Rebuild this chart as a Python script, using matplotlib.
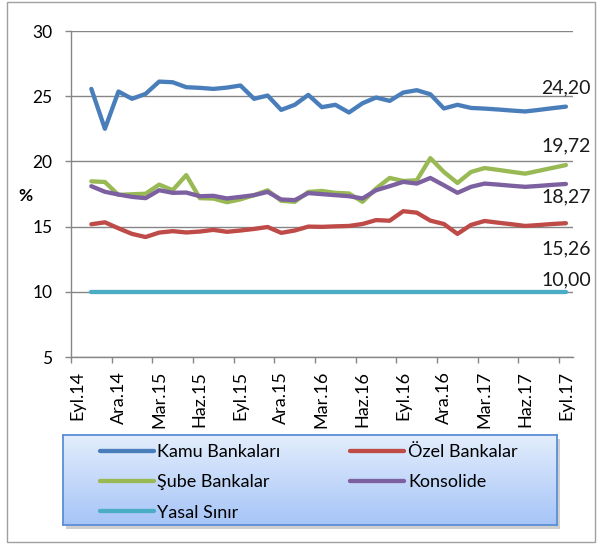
import numpy as np
import matplotlib.pyplot as plt
from matplotlib.patches import Rectangle

plt.rcParams['font.family'] = ['Lato', 'DejaVu Sans']

# categories on the axis (monthly, Eyl.14 .. Eyl.17); data starts with Eki.14
tick_labels = ["Eyl.14", "Ara.14", "Mar.15", "Haz.15", "Eyl.15", "Ara.15", "Mar.16",
               "Haz.16", "Eyl.16", "Ara.16", "Mar.17", "Haz.17", "Eyl.17"]
n_cat = 37

kamu = [25.56, 22.5, 25.36, 24.8, 25.18, 26.12, 26.07, 25.69, 25.64, 25.56, 25.66, 25.82,
        24.8, 25.05, 23.95, 24.34, 25.1, 24.16, 24.34, 23.75, 24.46, 24.9, 24.64, 25.28,
        25.46, 25.15, 24.06, 24.34, 24.1, 24.05, 23.98, 23.9, 23.83, 23.95, 24.08, 24.20]
ozel = [15.18, 15.33, 14.87, 14.44, 14.2, 14.54, 14.65, 14.55, 14.62, 14.75, 14.6, 14.7,
        14.82, 14.97, 14.52, 14.7, 15.0, 14.98, 15.02, 15.05, 15.2, 15.5, 15.45, 16.18,
        16.07, 15.46, 15.2, 14.44, 15.13, 15.43, 15.3, 15.18, 15.05, 15.12, 15.2, 15.26]
sube = [18.47, 18.42, 17.43, 17.48, 17.52, 18.22, 17.79, 18.95, 17.18, 17.15, 16.87, 17.09,
        17.41, 17.78, 16.98, 16.9, 17.66, 17.73, 17.59, 17.54, 16.9, 17.92, 18.73, 18.5,
        18.55, 20.25, 19.19, 18.35, 19.19, 19.49, 19.35, 19.2, 19.06, 19.28, 19.5, 19.72]
konsolide = [18.1, 17.67, 17.46, 17.28, 17.18, 17.79, 17.59, 17.61, 17.33, 17.36, 17.16, 17.28,
             17.41, 17.66, 17.08, 17.03, 17.57, 17.49, 17.41, 17.33, 17.16, 17.79, 18.1, 18.43,
             18.3, 18.73, 18.17, 17.59, 18.05, 18.3, 18.22, 18.13, 18.05, 18.12, 18.2, 18.27]
yasal = [10.0] * 36

series = [
    ("Kamu Bankaları", kamu, "#4a7ebb", "24,20", 19),
    ("Özel Bankalar", ozel, "#be4b48", "15,26", -26),
    ("Şube Bankalar", sube, "#98b954", "19,72", 19),
    ("Konsolide", konsolide, "#7d60a0", "18,27", -13),
    ("Yasal Sınır", yasal, "#4bacc6", "10,00", 12),
]

W, H = 598, 544
fig = plt.figure(figsize=(W / 100, H / 100), dpi=100)
ax = fig.add_axes([71 / W, 1 - 357 / H, (572.7 - 71) / W, (357 - 31) / H])

x = np.arange(1, n_cat)
handles = {}
for name, vals, color, lab, dy in series:
    ln, = ax.plot(x, vals, color=color, lw=3.1, solid_capstyle='round',
                  solid_joinstyle='round', zorder=3)
    handles[name] = ln
    ax.annotate(lab, xy=(x[-1], vals[-1]), xytext=(0, dy), textcoords='offset pixels',
                ha='center', va='center', fontsize=14, color='#1a1a1a')

ax.set_xlim(-0.5, n_cat - 0.5)
ax.set_ylim(5, 30)
ax.set_yticks(np.arange(5, 31, 5))
ax.tick_params(axis='y', length=4.5, width=1, color='#868686', pad=9, labelsize=12.5)
ax.grid(axis='y', color='#868686', lw=1)
ax.set_axisbelow(True)

# ticks at category boundaries, labels at every 3rd category
ax.set_xticks(np.arange(-0.5, n_cat, 3))
ax.set_xticklabels([])
ax.set_xticks(np.arange(0, n_cat, 3), minor=True)
ax.set_xticklabels(tick_labels, minor=True, rotation=90, fontsize=13)
ax.tick_params(axis='x', which='major', length=4.5, width=1, color='#868686')
ax.tick_params(axis='x', which='minor', length=0, pad=10)

for s in ['top', 'right']:
    ax.spines[s].set_visible(False)
for s in ['left', 'bottom']:
    ax.spines[s].set_color('#868686')
    ax.spines[s].set_linewidth(1)

fig.text(25 / W, 1 - 196 / H, "%", fontsize=12.5, fontweight='bold', ha='center', va='center')

# legend box with blue gradient
lx0, ly0, lx1, ly1 = 63, 435, 557, 525
shadow = Rectangle(((lx0 + 3) / W, 1 - (ly1 + 4) / H), (lx1 - lx0) / W, (ly1 - ly0) / H,
                   transform=fig.transFigure, facecolor='#cfcfcf', edgecolor='none', zorder=-1)
fig.patches.append(shadow)
lax = fig.add_axes([lx0 / W, 1 - ly1 / H, (lx1 - lx0) / W, (ly1 - ly0) / H], zorder=2)
grad = np.linspace(0, 1, 100).reshape(-1, 1)
top_c = np.array([0.89, 0.93, 0.99])
bot_c = np.array([0.65, 0.77, 0.97])
img = top_c[None, None, :] * (1 - grad[:, :, None]) + bot_c[None, None, :] * grad[:, :, None]
lax.imshow(img, extent=[0, 1, 0, 1], aspect='auto')
lax.set_xticks([])
lax.set_yticks([])
for s in lax.spines.values():
    s.set_color('#5b8ed6')
    s.set_linewidth(1.3)

order = ["Kamu Bankaları", "Şube Bankalar", "Yasal Sınır", "Özel Bankalar", "Konsolide"]
lax.legend([handles[n] for n in order], order, ncol=2, loc='upper left',
           bbox_to_anchor=(0.055, 1.0), frameon=False, fontsize=13,
           handlelength=3.0, handletextpad=0.2, columnspacing=3.85,
           labelspacing=0.78, borderaxespad=0.1, borderpad=0.42)

fig.patches.append(Rectangle((6.5 / W, 2 / H), 588 / W, 540 / H, transform=fig.transFigure,
                             facecolor='none', edgecolor='#a0a0a0', lw=1, zorder=-2))

fig.savefig("out.png", dpi=100)
